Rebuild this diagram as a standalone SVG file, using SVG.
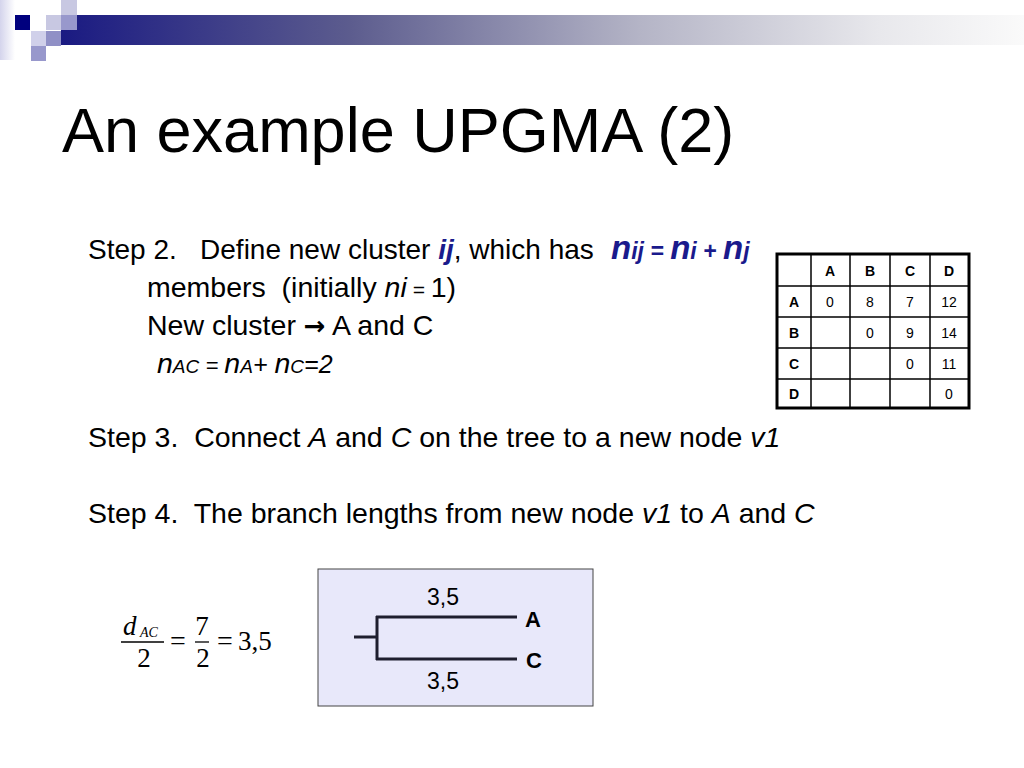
<svg xmlns="http://www.w3.org/2000/svg" width="1024" height="768" viewBox="0 0 1024 768">
<defs>
<linearGradient id="bar" x1="0" y1="0" x2="1" y2="0">
<stop offset="0" stop-color="#1a1a82"/>
<stop offset="0.3" stop-color="#5c5c8e"/>
<stop offset="0.6" stop-color="#b4b4c6"/>
<stop offset="0.85" stop-color="#e8e8ec"/>
<stop offset="1" stop-color="#fafafa"/>
</linearGradient>
<linearGradient id="edge" x1="0" y1="0" x2="1" y2="0">
<stop offset="0" stop-color="#d4d4ec"/>
<stop offset="1" stop-color="#ffffff"/>
</linearGradient>
<style>
.t{font-family:"Liberation Sans",Arial,sans-serif;fill:#000}
.b{font-size:28.5px}
.bl{fill:#1a1a8c;font-weight:bold;font-style:italic}
.it{font-style:italic}
.th{font-family:"Liberation Sans",Arial,sans-serif;font-size:14px;font-weight:bold;text-anchor:middle}
.td{font-family:"Liberation Sans",Arial,sans-serif;font-size:14px;text-anchor:middle}
.m{font-family:"Liberation Serif","Times New Roman",serif}
.ln{stroke:#1e1e2e;stroke-width:3;fill:none}
</style>
</defs>
<rect width="1024" height="768" fill="#fff"/>
<g id="header">
<rect x="0" y="0" width="15" height="60" fill="url(#edge)"/>
<rect x="61" y="15" width="963" height="30" fill="url(#bar)"/>
<rect x="15" y="15" width="15" height="15" fill="#00007e"/>
<rect x="46" y="15" width="15" height="15" fill="#c8c8e2"/>
<rect x="61" y="0" width="16" height="15" fill="#c8c8e2"/>
<rect x="61" y="15" width="16" height="15" fill="#9898cc"/>
<rect x="31" y="31" width="15" height="15" fill="#d0d0ea"/>
<rect x="46" y="31" width="15" height="15" fill="#9090c6"/>
<rect x="31" y="46" width="15" height="15" fill="#9898cc"/>
</g>
<text id="title" class="t" x="62" y="152" font-size="63">An example UPGMA (2)</text>
<g id="body">
<text class="t" font-size="28" x="88" y="259" xml:space="preserve">Step 2.   Define new cluster <tspan class="bl">ij</tspan>, which has  <tspan class="bl" font-size="33" x="611">n</tspan><tspan class="bl" font-size="23">ij = </tspan><tspan class="bl" font-size="33">n</tspan><tspan class="bl" font-size="23">i + </tspan><tspan class="bl" font-size="33">n</tspan><tspan class="bl" font-size="23">j</tspan></text>
<text class="t b" x="147" y="297" xml:space="preserve">members  (initially <tspan class="it">ni</tspan><tspan class="it" font-size="21"> = </tspan>1)</text>
<text class="t b" x="147" y="335">New cluster <tspan font-family="DejaVu Sans,sans-serif" font-weight="bold" font-size="26">→</tspan> A and C</text>
<text class="t b it" x="157" y="373" xml:space="preserve">n<tspan font-size="19">AC</tspan><tspan font-size="22"> = </tspan>n<tspan font-size="19">A</tspan><tspan font-size="25">+ </tspan>n<tspan font-size="19">C</tspan><tspan font-size="25">=2</tspan></text>
<text class="t b" x="88" y="447" xml:space="preserve">Step 3.  Connect <tspan class="it">A</tspan> and <tspan class="it">C</tspan> on the tree to a new node <tspan class="it">v1</tspan></text>
<text class="t b" x="88" y="523" xml:space="preserve">Step 4.  The branch lengths from new node <tspan class="it">v1</tspan> to <tspan class="it">A</tspan> and <tspan class="it">C</tspan></text>
</g>
<g id="matrix">
<g stroke="#000" stroke-width="1.5" fill="none">
<line x1="811" y1="254" x2="811" y2="408"/>
<line x1="850" y1="254" x2="850" y2="408"/>
<line x1="890" y1="254" x2="890" y2="408"/>
<line x1="930" y1="254" x2="930" y2="408"/>
<line x1="777" y1="286" x2="969" y2="286"/>
<line x1="777" y1="317" x2="969" y2="317"/>
<line x1="777" y1="348" x2="969" y2="348"/>
<line x1="777" y1="379" x2="969" y2="379"/>
<rect x="777" y="254" width="192" height="154" stroke-width="3"/>
</g>
<text class="th" x="830" y="276">A</text>
<text class="th" x="870" y="276">B</text>
<text class="th" x="910" y="276">C</text>
<text class="th" x="949" y="276">D</text>
<text class="th" x="794" y="307">A</text>
<text class="th" x="794" y="338">B</text>
<text class="th" x="794" y="369">C</text>
<text class="th" x="794" y="399">D</text>
<text class="td" x="830" y="307">0</text>
<text class="td" x="870" y="307">8</text>
<text class="td" x="910" y="307">7</text>
<text class="td" x="949" y="307">12</text>
<text class="td" x="870" y="338">0</text>
<text class="td" x="910" y="338">9</text>
<text class="td" x="949" y="338">14</text>
<text class="td" x="910" y="369">0</text>
<text class="td" x="949" y="369">11</text>
<text class="td" x="949" y="399">0</text>
</g>
<g id="formula">
<text class="m it" x="123" y="635" font-size="27">d</text>
<text class="m it" x="140" y="637" font-size="14">AC</text>
<line x1="121" y1="642" x2="164" y2="642" stroke="#000" stroke-width="1.3"/>
<text class="m" x="144" y="667" font-size="27" text-anchor="middle">2</text>
<text class="m" x="178" y="650" font-size="28" text-anchor="middle">=</text>
<text class="m" x="202" y="635" font-size="27" text-anchor="middle">7</text>
<line x1="195" y1="642" x2="209" y2="642" stroke="#000" stroke-width="1.3"/>
<text class="m" x="203" y="667" font-size="27" text-anchor="middle">2</text>
<text class="m" x="225" y="650" font-size="28" text-anchor="middle">=</text>
<text class="m" x="238" y="650" font-size="27">3,5</text>
</g>
<g id="tree-box">
<rect x="318" y="569" width="275" height="137" fill="#e8e8fa" stroke="#444" stroke-width="1"/>
</g>
<g id="connectors">
<line class="ln" x1="354" y1="637" x2="377" y2="637"/>
<line class="ln" x1="377" y1="616" x2="377" y2="660"/>
<line class="ln" x1="376" y1="617" x2="517" y2="617"/>
<line class="ln" x1="376" y1="659" x2="517" y2="659"/>
</g>
<g id="labels">
<text class="t" x="443" y="605" font-size="23" text-anchor="middle">3,5</text>
<text class="t" x="443" y="689" font-size="23" text-anchor="middle">3,5</text>
<text class="t" x="525" y="627" font-size="22" font-weight="bold">A</text>
<text class="t" x="526" y="668" font-size="22" font-weight="bold">C</text>
</g>
</svg>
